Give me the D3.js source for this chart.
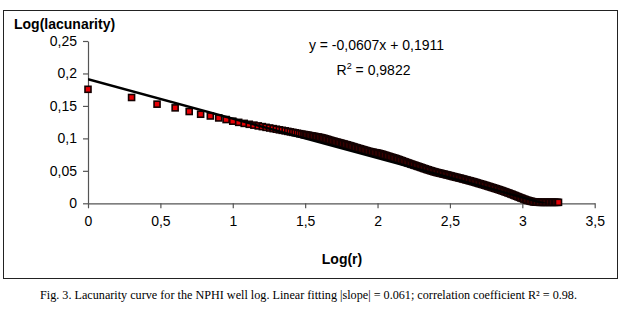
<!DOCTYPE html>
<html>
<head>
<meta charset="utf-8">
<script src="https://cdn.jsdelivr.net/npm/d3@7"></script>
<style>
  body { margin: 0; background: #fff; }
  svg { display: block; }
</style>
</head>
<body>
<svg id="chart" width="626" height="317"></svg>
<script>
// log(r) values (x) and log(lacunarity) values (y)
const logR = [
    0, 0.301, 0.477, 0.602, 0.699, 0.778, 0.845, 0.903, 0.954, 1.0,
    1.041, 1.079, 1.114, 1.146, 1.176, 1.204, 1.230, 1.255, 1.279, 1.301,
    1.322, 1.342, 1.362, 1.380, 1.398, 1.415, 1.431, 1.447, 1.462, 1.477, 1.491,
    1.50, 1.51, 1.52, 1.53, 1.54, 1.55, 1.56, 1.57, 1.58, 1.59,
    1.60, 1.61, 1.62, 1.63, 1.64, 1.65, 1.66, 1.67, 1.68, 1.69,
    1.70, 1.71, 1.72, 1.73, 1.74, 1.75, 1.76, 1.77, 1.78, 1.79,
    1.80, 1.81, 1.82, 1.83, 1.84, 1.85, 1.86, 1.87, 1.88, 1.89,
    1.90, 1.91, 1.92, 1.93, 1.94, 1.95, 1.96, 1.97, 1.98, 1.99,
    2.00, 2.01, 2.02, 2.03, 2.04, 2.05, 2.06, 2.07, 2.08, 2.09,
    2.10, 2.11, 2.12, 2.13, 2.14, 2.15, 2.16, 2.17, 2.18, 2.19,
    2.20, 2.21, 2.22, 2.23, 2.24, 2.25, 2.26, 2.27, 2.28, 2.29,
    2.30, 2.31, 2.32, 2.33, 2.34, 2.35, 2.36, 2.37, 2.38, 2.39,
    2.40, 2.41, 2.42, 2.43, 2.44, 2.45, 2.46, 2.47, 2.48, 2.49,
    2.50, 2.51, 2.52, 2.53, 2.54, 2.55, 2.56, 2.57, 2.58, 2.59,
    2.60, 2.61, 2.62, 2.63, 2.64, 2.65, 2.66, 2.67, 2.68, 2.69,
    2.70, 2.71, 2.72, 2.73, 2.74, 2.75, 2.76, 2.77, 2.78, 2.79,
    2.80, 2.81, 2.82, 2.83, 2.84, 2.85, 2.86, 2.87, 2.88, 2.89,
    2.90, 2.91, 2.92, 2.93, 2.94, 2.95, 2.96, 2.97, 2.98, 2.99,
    3.00, 3.01, 3.02, 3.03, 3.04, 3.05, 3.06, 3.07, 3.08, 3.09,
    3.10, 3.11, 3.12, 3.13, 3.14, 3.15, 3.16, 3.17, 3.18, 3.19,
    3.20, 3.21, 3.22, 3.23, 3.24, 3.25
];
const logLac = [
    0.1756, 0.1630, 0.1527, 0.1470, 0.1414, 0.1372, 0.1345, 0.1315, 0.1290, 0.1265,
    0.1247, 0.1231, 0.1217, 0.1204, 0.1192, 0.1181, 0.1170, 0.1160, 0.1150, 0.1141,
    0.1132, 0.1124, 0.1116, 0.1108, 0.1100, 0.1093, 0.1086, 0.1079, 0.1072, 0.1066, 0.1060,
    0.1056, 0.1052, 0.1048, 0.1044, 0.1040, 0.1036, 0.1032, 0.1028, 0.1024, 0.1020,
    0.1016, 0.1011, 0.1006, 0.1000, 0.0994, 0.0987, 0.0980, 0.0973, 0.0966, 0.0960,
    0.0954, 0.0948, 0.0942, 0.0936, 0.0930, 0.0924, 0.0918, 0.0912, 0.0906, 0.0900,
    0.0893, 0.0887, 0.0880, 0.0873, 0.0866, 0.0859, 0.0852, 0.0846, 0.0840, 0.0833,
    0.0826, 0.0820, 0.0813, 0.0806, 0.0800, 0.0795, 0.0790, 0.0785, 0.0781, 0.0777,
    0.0773, 0.0768, 0.0762, 0.0756, 0.0749, 0.0742, 0.0735, 0.0728, 0.0721, 0.0714,
    0.0707, 0.0701, 0.0694, 0.0687, 0.0679, 0.0671, 0.0663, 0.0655, 0.0646, 0.0638,
    0.0630, 0.0622, 0.0614, 0.0606, 0.0598, 0.0591, 0.0583, 0.0576, 0.0568, 0.0561,
    0.0553, 0.0545, 0.0537, 0.0530, 0.0522, 0.0515, 0.0508, 0.0501, 0.0494, 0.0487,
    0.0481, 0.0475, 0.0470, 0.0465, 0.0459, 0.0454, 0.0448, 0.0443, 0.0437, 0.0432,
    0.0426, 0.0420, 0.0414, 0.0409, 0.0403, 0.0398, 0.0392, 0.0387, 0.0381, 0.0375,
    0.0369, 0.0363, 0.0357, 0.0351, 0.0345, 0.0339, 0.0333, 0.0327, 0.0320, 0.0313,
    0.0306, 0.0300, 0.0293, 0.0287, 0.0280, 0.0273, 0.0266, 0.0259, 0.0252, 0.0245,
    0.0238, 0.0231, 0.0224, 0.0217, 0.0209, 0.0202, 0.0194, 0.0186, 0.0178, 0.0170,
    0.0162, 0.0154, 0.0145, 0.0137, 0.0128, 0.0119, 0.0110, 0.0101, 0.0092, 0.0083,
    0.0075, 0.0066, 0.0058, 0.0050, 0.0043, 0.0037, 0.0031, 0.0026, 0.0022, 0.0019,
    0.0017, 0.0016, 0.0015, 0.0015, 0.0015, 0.0015, 0.0015, 0.0015, 0.0015, 0.0015,
    0.0015, 0.0015, 0.0015, 0.0015, 0.0015, 0.0015
];

// linear fit shown on the chart
const fitSlope = -0.0607;
const fitIntercept = 0.1911;
const fitRange = [0, 3.25];

const xTicks = [0, 0.5, 1, 1.5, 2, 2.5, 3, 3.5];
const yTicks = [0, 0.05, 0.1, 0.15, 0.2, 0.25];

const eqText = "y = -0,0607x + 0,1911";
const r2Value = " = 0,9822";
const captionText = "Fig. 3. Lacunarity curve for the NPHI well log. Linear fitting |slope| = 0.061; correlation coefficient R\u00B2 = 0.98.";

const points = logR.map((x, i) => ({ x: x, y: logLac[i] }));

const svg = d3.select("#chart");

//outer frame of the excel chart
svg.append("rect")
    .attr("x", 3.5).attr("y", 10.5)
    .attr("width", 614).attr("height", 268)
    .attr("fill", "none")
    .attr("stroke", "#222")
    .attr("stroke-width", 1);

const x = d3.scaleLinear().domain([0, 3.5]).range([88, 594.7]);
const y = d3.scaleLinear().domain([0, 0.25]).range([203.3, 41]);

const comma = d => String(d).replace(".", ",");

//axes
const xAxis = svg.append("g")
    .attr("transform", `translate(0,${y(0)})`)
    .call(d3.axisBottom(x).tickValues(xTicks).tickSize(5).tickSizeOuter(0).tickPadding(8).tickFormat(comma));

const yAxis = svg.append("g")
    .attr("transform", `translate(${x(0)},0)`)
    .call(d3.axisLeft(y).tickValues(yTicks).tickSize(5).tickSizeOuter(0).tickPadding(6).tickFormat(comma));

[xAxis, yAxis].forEach(a => {
    a.select(".domain").attr("stroke", "#555").attr("stroke-width", 1.2);
    a.selectAll(".tick line").attr("stroke", "#555").attr("stroke-width", 1.2);
    a.selectAll(".tick text")
        .attr("fill", "#000")
        .style("font-family", "Arial, 'Liberation Sans', sans-serif")
        .style("font-size", "14px");
});

//markers (red squares with dark border)
const size = 6;
svg.append("g")
    .selectAll("rect")
    .data(points)
    .join("rect")
    .attr("x", d => x(d.x) - size / 2)
    .attr("y", d => y(d.y) - size / 2)
    .attr("width", size)
    .attr("height", size)
    .attr("fill", "#e60005")
    .attr("stroke", "#140000")
    .attr("stroke-width", 1.6);

//trend line, clipped to plot area
svg.append("clipPath").attr("id", "plotclip")
    .append("rect")
    .attr("x", x(0)).attr("y", y(0.25))
    .attr("width", x(3.5) - x(0)).attr("height", y(0) - y(0.25));

svg.append("line")
    .attr("clip-path", "url(#plotclip)")
    .attr("x1", x(fitRange[0]))
    .attr("y1", y(fitSlope * fitRange[0] + fitIntercept))
    .attr("x2", x(fitRange[1]))
    .attr("y2", y(fitSlope * fitRange[1] + fitIntercept))
    .attr("stroke", "#000")
    .attr("stroke-width", 2.4);

//axis titles
svg.append("text")
    .attr("x", 14).attr("y", 28.5)
    .style("font-family", "Arial, 'Liberation Sans', sans-serif")
    .style("font-size", "14px")
    .style("font-weight", "bold")
    .text("Log(lacunarity)");

svg.append("text")
    .attr("x", 342).attr("y", 264)
    .attr("text-anchor", "middle")
    .style("font-family", "Arial, 'Liberation Sans', sans-serif")
    .style("font-size", "14px")
    .style("font-weight", "bold")
    .text("Log(r)");

//equation + R²
svg.append("text")
    .attr("x", 376.5).attr("y", 49.5)
    .attr("text-anchor", "middle")
    .style("font-family", "Arial, 'Liberation Sans', sans-serif")
    .style("font-size", "14px")
    .text(eqText);

const r2 = svg.append("text")
    .attr("x", 373.5).attr("y", 75)
    .attr("text-anchor", "middle")
    .style("font-family", "Arial, 'Liberation Sans', sans-serif")
    .style("font-size", "14px");
r2.append("tspan").text("R");
r2.append("tspan").attr("dy", -6).style("font-size", "9px").text("2");
r2.append("tspan").attr("dy", 6).text(r2Value);

//figure caption
svg.append("text")
    .attr("x", 40).attr("y", 299)
    .attr("textLength", 537)
    .attr("lengthAdjust", "spacingAndGlyphs")
    .style("font-family", "'Liberation Serif', 'Times New Roman', serif")
    .style("font-size", "11.5px")
    .text(captionText);
</script>
</body>
</html>
